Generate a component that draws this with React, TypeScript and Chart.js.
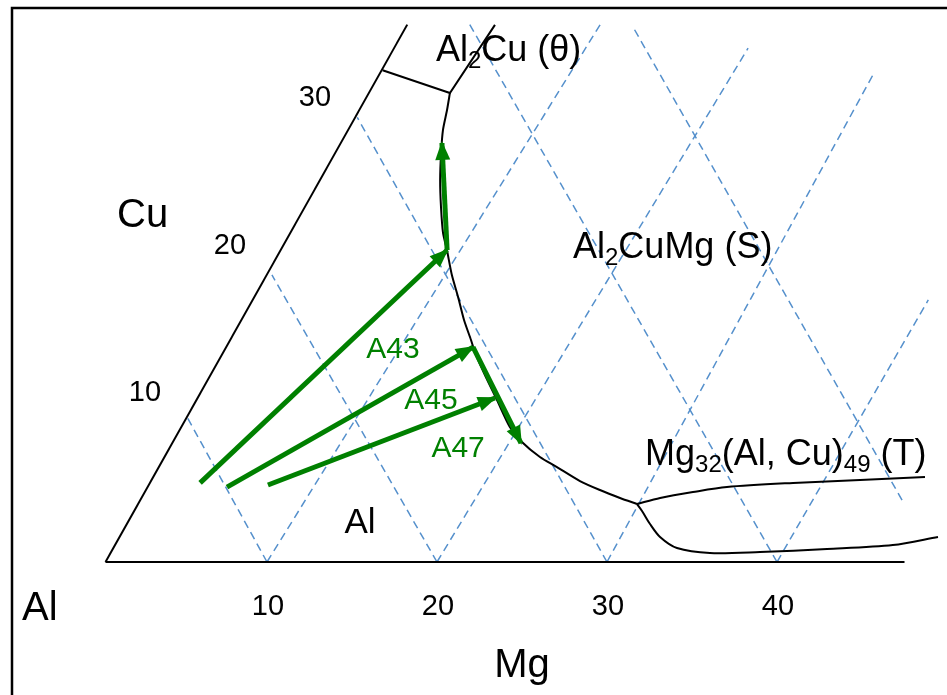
import React, { useEffect, useRef } from "react";
import { Chart, registerables } from "chart.js";

Chart.register(...registerables);

// ---------- data (ternary compositions given as [Mg wt%, Cu wt%]) ----------
const mgTicks = [10, 20, 30, 40];
const cuTicks = [10, 20, 30];

const leftEdge = [[0.5, 0], [0, 36.5]];
const baseEdge = [[0.5, 0], [47.5, 0]];

// dashed iso-Mg lines (rising to the right)
const isoMgLines = [
  [[10, 0], [11.35, 36.5]],
  [[20, 0], [20.85, 34.9]],
  [[30, 0], [29.1, 33.1]],
  [[40, 0], [40.0, 17.8]],
];
// dashed iso-Al lines (rising to the left)
const isoAlLines = [
  [[10, 0], [0.37, 9.85]],
  [[20, 0], [0.54, 19.5]],
  [[30, 0], [0.21, 30.2]],
  [[40, 0], [3.48, 36.7]],
  [[45.25, 4.21], [13.36, 36.34]],
];

const thetaBoundary = [[0.1, 33.4], [4.83, 31.86], [5.17, 36.48]];
const valleyCurve = [
  [4.83, 31.86], [5.24, 30.7], [5.68, 29.34], [6.35, 27.78], [7.21, 25.95],
  [8.18, 24.11], [9.18, 22.35], [9.99, 21.19], [11.13, 19.49], [12.24, 18.0],
  [13.37, 16.44], [14.46, 15.08], [15.26, 14.06], [16.47, 12.7], [18.03, 11.0],
  [19.7, 9.17], [20.92, 8.15], [22.49, 7.13], [23.83, 6.45], [25.66, 5.5],
  [27.14, 4.89], [28.59, 4.35], [29.79, 3.94],
];
const tUpperBoundary = [
  [29.79, 3.94], [30.95, 4.35], [32.68, 4.75], [34.51, 5.09], [38.26, 5.37],
  [42.1, 5.57], [45.82, 5.77],
];
const tLowerBoundary = [
  [29.79, 3.94], [30.33, 3.46], [31.24, 2.58], [32.27, 1.7], [33.64, 0.95],
  [35.75, 0.61], [38.66, 0.68], [42.5, 0.88], [46.24, 1.15], [48.62, 1.7],
];

const a43Feed = [[3.38, 5.37], [10.0, 21.19]];
const a43Path = [[10.0, 21.19], [6.06, 28.46]];
const a45Feed = [[5.1, 5.09], [14.82, 14.6]];
const a45Path = [[14.82, 14.6], [20.9, 8.08]];
const a47Feed = [[7.44, 5.23], [17.84, 11.14]];

// ---------- layout ----------
const W = 947;
const H = 695;
const PX = 17; // pixels per wt%
const OX = 97;
const OY = 562;
const FONT = '"Liberation Sans", Arial, Helvetica, sans-serif';
const GREEN = "rgb(0,128,0)";
const BLUE = "#5590cc";

const S3 = Math.sqrt(3) / 2;
function toXY(p: number[]) {
  return { x: p[0] + p[1] / 2, y: p[1] * S3 };
}

type Seg = { t: string; sub?: boolean };
type Label = {
  segs: Seg[];
  x: number;
  y: number;
  size: number;
  align: "left" | "center";
  baseline: CanvasTextBaseline;
  color: string;
};

const labels: Label[] = [
  { segs: [{ t: "Al" }, { t: "2", sub: true }, { t: "Cu (θ)" }], x: 19.94, y: 29.47, size: 36, align: "left", baseline: "alphabetic", color: "#000" },
  { segs: [{ t: "Al" }, { t: "2", sub: true }, { t: "CuMg (S)" }], x: 28.0, y: 17.88, size: 36, align: "left", baseline: "alphabetic", color: "#000" },
  { segs: [{ t: "Mg" }, { t: "32", sub: true }, { t: "(Al, Cu)" }, { t: "49", sub: true }, { t: " (T)" }], x: 32.24, y: 5.71, size: 36, align: "left", baseline: "alphabetic", color: "#000" },
  { segs: [{ t: "Al" }], x: 15.47, y: 2.29, size: 35, align: "center", baseline: "middle", color: "#000" },
  { segs: [{ t: "A43" }], x: 17.41, y: 12.47, size: 30, align: "center", baseline: "middle", color: GREEN },
  { segs: [{ t: "A45" }], x: 19.65, y: 9.47, size: 30, align: "center", baseline: "middle", color: GREEN },
  { segs: [{ t: "A47" }], x: 21.24, y: 6.65, size: 30, align: "center", baseline: "middle", color: GREEN },
  { segs: [{ t: "Cu" }], x: 1.18, y: 19.71, size: 40, align: "left", baseline: "alphabetic", color: "#000" },
  { segs: [{ t: "Al" }], x: -4.41, y: -3.41, size: 40, align: "left", baseline: "alphabetic", color: "#000" },
  { segs: [{ t: "Mg" }], x: 25.0, y: -6.76, size: 40, align: "center", baseline: "alphabetic", color: "#000" },
];

function drawRich(ctx: CanvasRenderingContext2D, l: Label, px: number, py: number) {
  const subSize = Math.round(l.size * 0.66);
  let total = 0;
  const widths = l.segs.map((s) => {
    ctx.font = `${s.sub ? subSize : l.size}px ${FONT}`;
    const w = ctx.measureText(s.t).width;
    total += w;
    return w;
  });
  let cx = l.align === "center" ? px - total / 2 : px;
  ctx.textAlign = "left";
  ctx.textBaseline = l.baseline;
  ctx.fillStyle = l.color;
  l.segs.forEach((s, i) => {
    ctx.font = `${s.sub ? subSize : l.size}px ${FONT}`;
    ctx.fillText(s.t, cx, py + (s.sub ? l.size * 0.2 : 0));
    cx += widths[i];
  });
}

const decorPlugin = {
  id: "decor",
  beforeDraw(chart: any) {
    const ctx = chart.ctx as CanvasRenderingContext2D;
    ctx.save();
    ctx.strokeStyle = "#000";
    ctx.lineWidth = 2.5;
    ctx.beginPath();
    ctx.moveTo(12, H);
    ctx.lineTo(12, 8);
    ctx.lineTo(W, 8);
    ctx.stroke();
    ctx.restore();
  },
  afterDatasetsDraw(chart: any) {
    const ctx = chart.ctx as CanvasRenderingContext2D;
    chart.data.datasets.forEach((ds: any, i: number) => {
      if (!ds.arrowHead) return;
      const pts = chart.getDatasetMeta(i).data;
      const a = pts[pts.length - 2];
      const b = pts[pts.length - 1];
      const ang = Math.atan2(b.y - a.y, b.x - a.x);
      const len = 17;
      const hw = 7.5;
      ctx.save();
      ctx.fillStyle = ds.borderColor;
      ctx.translate(b.x, b.y);
      ctx.rotate(ang);
      ctx.beginPath();
      ctx.moveTo(2, 0);
      ctx.lineTo(-len, -hw);
      ctx.lineTo(-len, hw);
      ctx.closePath();
      ctx.fill();
      ctx.restore();
    });
  },
  afterDraw(chart: any) {
    const ctx = chart.ctx as CanvasRenderingContext2D;
    const xs = chart.scales.x;
    const ys = chart.scales.y;
    ctx.save();
    labels.forEach((l) => drawRich(ctx, l, xs.getPixelForValue(l.x), ys.getPixelForValue(l.y)));
    ctx.font = `29px ${FONT}`;
    ctx.fillStyle = "#000";
    ctx.textAlign = "center";
    ctx.textBaseline = "middle";
    mgTicks.forEach((m) => {
      const p = toXY([m, 0]);
      ctx.fillText(String(m), xs.getPixelForValue(p.x) + 1, ys.getPixelForValue(p.y) + 45);
    });
    cuTicks.forEach((c) => {
      const p = toXY([0, c]);
      ctx.fillText(String(c), xs.getPixelForValue(p.x) - 37, ys.getPixelForValue(p.y) - 22);
    });
    ctx.restore();
  },
};

function lineDs(points: number[][], color: string, width: number, extra: any = {}) {
  return {
    data: points.map(toXY),
    showLine: true,
    borderColor: color,
    backgroundColor: color,
    borderWidth: width,
    pointRadius: 0,
    pointHoverRadius: 0,
    tension: 0,
    fill: false,
    borderCapStyle: "butt",
    ...extra,
  };
}

export default function App() {
  const ref = useRef<HTMLCanvasElement | null>(null);
  useEffect(() => {
    document.body.style.margin = "0";
    if (!ref.current) return;
    const datasets: any[] = [
      lineDs(a43Feed, GREEN, 5, { arrowHead: true }),
      lineDs(a43Path, GREEN, 5, { arrowHead: true }),
      lineDs(a45Feed, GREEN, 5, { arrowHead: true }),
      lineDs(a45Path, GREEN, 5, { arrowHead: true }),
      lineDs(a47Feed, GREEN, 5, { arrowHead: true }),
      lineDs(leftEdge, "#000", 2),
      lineDs(baseEdge, "#000", 2),
      lineDs(thetaBoundary, "#000", 2),
      lineDs(valleyCurve, "#000", 2, { tension: 0.25 }),
      lineDs(tUpperBoundary, "#000", 2, { tension: 0.3 }),
      lineDs(tLowerBoundary, "#000", 2, { tension: 0.3 }),
      ...isoMgLines.map((l) => lineDs(l, BLUE, 1.5, { borderDash: [8, 5] })),
      ...isoAlLines.map((l) => lineDs(l, BLUE, 1.5, { borderDash: [8, 5] })),
    ];
    const chart = new Chart(ref.current, {
      type: "scatter",
      data: { datasets },
      options: {
        animation: false,
        responsive: false,
        devicePixelRatio: 1,
        events: [],
        layout: { padding: 0 },
        plugins: { legend: { display: false }, tooltip: { enabled: false } },
        scales: {
          x: { type: "linear", min: -OX / PX, max: (W - OX) / PX, display: false },
          y: { type: "linear", min: -(H - OY) / PX, max: OY / PX, display: false },
        },
      },
      plugins: [decorPlugin],
    } as any);
    return () => chart.destroy();
  }, []);
  return (
    <canvas ref={ref} width={W} height={H} style={{ display: "block", width: W, height: H }} />
  );
}
